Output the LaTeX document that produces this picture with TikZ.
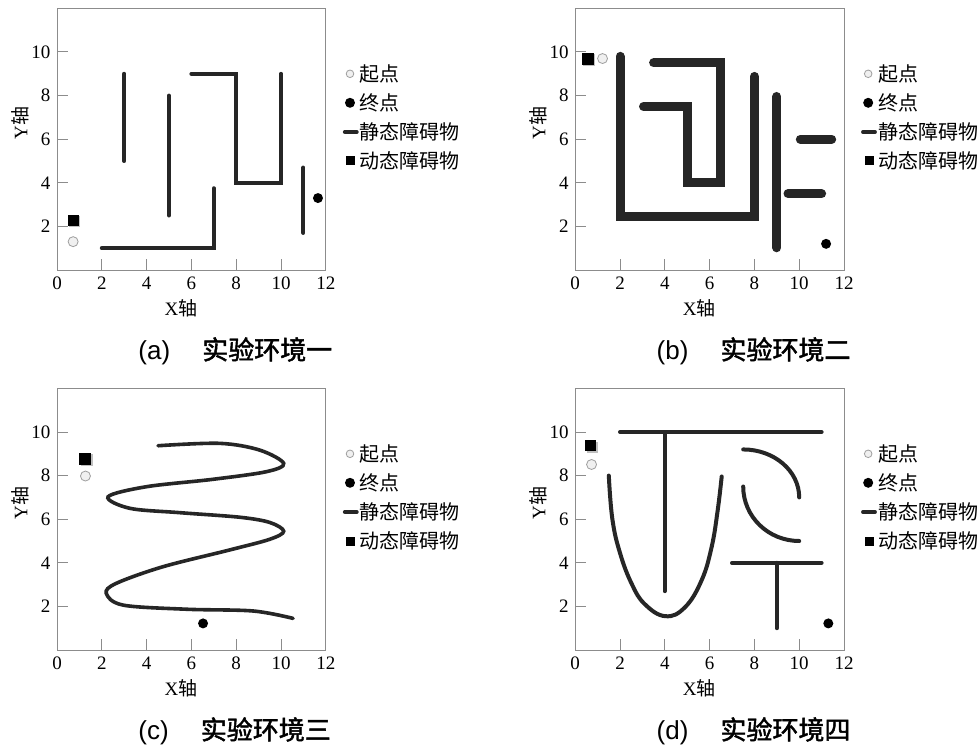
\documentclass[tikz,border=0pt]{standalone}
\usepackage{fontspec}
\setmainfont{Liberation Serif}
\newfontfamily\cjk{Noto Sans CJK SC}
\newfontfamily\cjkmed[FakeBold=1.8]{Noto Sans CJK SC}
\newfontfamily\capfont{Liberation Sans}
\usetikzlibrary{shadows}
\definecolor{wallgray}{HTML}{262626}
\definecolor{framegray}{HTML}{8C8C8C}

\begin{document}
\begin{tikzpicture}[x=11.2pt, y=10.9pt]
    % Stile
    \tikzstyle{frame} = [draw=framegray, line width=0.5pt]
    \tikzstyle{tick} = [draw=framegray, line width=0.5pt]
    \tikzstyle{num} = [font=\fontsize{9.5}{10}\selectfont, inner sep=0pt]
    \tikzstyle{legtext} = [font=\fontsize{10}{11}\selectfont\cjk, anchor=west, inner sep=0pt]
    \tikzstyle{caption} = [font=\fontsize{13}{14}\selectfont, anchor=west, inner sep=0pt]
    \tikzstyle{wall} = [draw=wallgray, line cap=round, line join=miter]
    \tikzstyle{startpt} = [circle, draw=gray!75, fill=gray!12, line width=0.4pt, minimum size=5pt, inner sep=0pt]
    \tikzstyle{goalpt} = [circle, fill=black, minimum size=5pt, inner sep=0pt]
    \tikzstyle{dynobs} = [rectangle, fill=black, minimum size=5.5pt, inner sep=0pt,
        drop shadow={shadow xshift=0.7pt, shadow yshift=-0.7pt, fill=gray, opacity=0.5}]

    \useasboundingbox[fill=white] (0,0) rectangle (490pt,373pt);

    % Rahmen, Achsen, Legende
    \foreach \ox/\oy/\lab/\capt in {28.5/238/a/实验环境一, 287.6/238/b/实验环境二,
                                    28.5/48/c/实验环境三, 287.6/48/d/实验环境四} {
        \begin{scope}[shift={(\ox pt,\oy pt)}]
            \draw[frame] (0,0) rectangle (12,12);
            \foreach \t in {2,4,...,10} {
                \draw[tick] (\t,0) -- (\t,0.5);
                \draw[tick] (0,\t) -- (0.5,\t);
                \node[num, anchor=east] (yt-\lab-\t) at (-0.28,\t) {\t};
            }
            \foreach \t in {0,2,...,12}
                \node[num] (xt-\lab-\t) at (\t,-0.62) {\t};
            \node[num] (xl-\lab) at (5.54,-1.74) {X{\cjk 轴}};
            \node[num, rotate=90] (yl-\lab) at (-1.65,6.75) {Y{\cjk 轴}};

            \node[startpt, minimum size=3.8pt] (ls-\lab) at (13.08,9.0) {};
            \node[legtext] (lst-\lab) at (13.5,9.0) {起点};
            \node[goalpt] (lg-\lab) at (13.08,7.67) {};
            \node[legtext] (lgt-\lab) at (13.5,7.67) {终点};
            \coordinate (lw1-\lab) at (12.85,6.33);
            \coordinate (lw2-\lab) at (13.38,6.33);
            \draw[wall, line width=2pt] (lw1-\lab) -- (lw2-\lab);
            \node[legtext] (lwt-\lab) at (13.5,6.33) {静态障碍物};
            \node[rectangle, fill=black, minimum size=4.5pt, inner sep=0pt] (ld-\lab) at (13.12,5.0) {};
            \node[legtext] (ldt-\lab) at (13.5,5.0) {动态障碍物};

            \node[caption] (cap-\lab) at (3.62,-3.72) {\capfont(\lab)\hspace{16pt}{\cjkmed \capt}};
        \end{scope}
    }

    % (a)
    \begin{scope}[shift={(28.5pt,238pt)}, line width=2pt]
        \draw[wall] (3,5) -- (3,9);
        \draw[wall] (5,2.5) -- (5,8);
        \draw[wall] (6,9) -- (8,9) -- (8,4) -- (10,4) -- (10,9);
        \draw[wall] (2,1) -- (7,1) -- (7,3.75);
        \draw[wall] (11,1.7) -- (11,4.7);
        \node[dynobs] (dyn-a) at (0.72,2.28) {};
        \node[startpt] (start-a) at (0.72,1.3) {};
        \node[goalpt] (goal-a) at (11.65,3.3) {};
    \end{scope}

    % (b)
    \begin{scope}[shift={(287.6pt,238pt)}, line width=4.5pt]
        \draw[wall] (2,9.8) -- (2,2.45) -- (8,2.45) -- (8,8.88);
        \draw[wall] (3.5,9.5) -- (6.5,9.5) -- (6.5,4) -- (5,4) -- (5,7.5) -- (3.05,7.5);
        \draw[wall] (9,1.02) -- (9,7.96);
        \draw[wall] (10.05,6) -- (11.45,6);
        \draw[wall] (9.5,3.5) -- (11,3.5);
        \node[dynobs, minimum size=6pt] (dyn-b) at (0.55,9.7) {};
        \node[startpt] (start-b) at (1.22,9.7) {};
        \node[goalpt] (goal-b) at (11.2,1.2) {};
    \end{scope}

    % (c)
    \begin{scope}[shift={(28.5pt,48pt)}, line width=1.8pt]
        \draw[wall] plot[smooth, tension=0.55] coordinates {
            (4.51,9.37) (7.26,9.48) (9.05,9.17) (10.12,8.56) (9.35,8.18)
            (6.96,7.83) (3.99,7.49) (2.28,7.03) (3.25,6.5) (5.48,6.3)
            (8.16,6.09) (9.5,5.85) (10.12,5.45) (9.5,5.08) (7.71,4.59)
            (4.73,3.82) (2.65,3.06) (2.2,2.6) (2.95,2.06) (5.78,1.87)
            (8.75,1.79) (10.54,1.45)};
        \node[dynobs, minimum size=6pt] (dyn-c) at (1.27,8.78) {};
        \node[startpt] (start-c) at (1.27,7.98) {};
        \node[goalpt] (goal-c) at (6.52,1.22) {};
    \end{scope}

    % (d)
    \begin{scope}[shift={(287.6pt,48pt)}, line width=2pt]
        \draw[wall] (2,10) -- (11,10);
        \draw[wall] (4,10) -- (4,2.7);
        \draw[wall] plot[smooth, tension=0.7] coordinates {
            (1.5,8.0) (1.66,6.0) (2.0,4.45) (2.52,3.04) (3.11,2.1) (4.03,1.55)
            (4.9,1.96) (5.64,3.19) (6.09,4.72) (6.36,6.4) (6.54,7.96)};
        \draw[wall] (7.5,9.2) arc[start angle=90, end angle=0, x radius=2.5, y radius=2.2];
        \draw[wall] (7.5,7.5) arc[start angle=180, end angle=270, radius=2.5];
        \draw[wall] (7,4) -- (11,4);
        \draw[wall] (9,4) -- (9,1);
        \node[dynobs] (dyn-d) at (0.7,9.37) {};
        \node[startpt] (start-d) at (0.73,8.51) {};
        \node[goalpt] (goal-d) at (11.3,1.22) {};
    \end{scope}
\end{tikzpicture}
\end{document}
